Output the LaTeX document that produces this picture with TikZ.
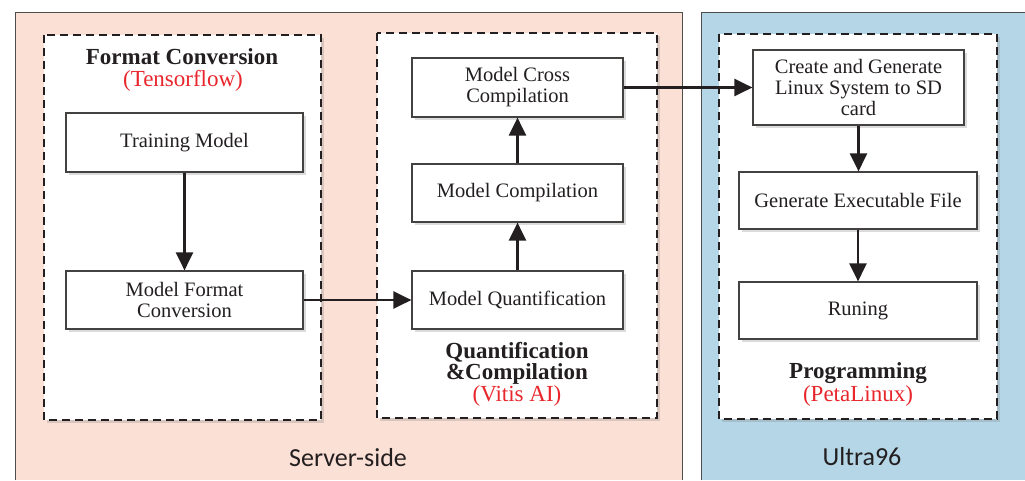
\documentclass[tikz,border=0pt]{standalone}
\usepackage{fontspec}
\setmainfont{Liberation Serif}
\newfontfamily\labelfont{Carlito}
\usetikzlibrary{shadows,arrows.meta}
\definecolor{peach}{HTML}{FBE0D5}
\definecolor{lblue}{HTML}{B4D6E6}
\definecolor{redtxt}{HTML}{E8262C}
\definecolor{ink}{HTML}{231F20}
\begin{document}
\begin{tikzpicture}[x=1pt,y=-1pt,
  procbox/.style={draw=ink!85, line width=1.2pt, fill=white, align=center, inner sep=2pt,
    text=ink, font=\fontsize{20.5}{21}\selectfont,
    drop shadow={opacity=0.28, shadow xshift=3pt, shadow yshift=-3pt}},
  groupbox/.style={draw=ink, dashed, dash pattern=on 8pt off 5pt, line width=1.8pt, fill=white,
    drop shadow={opacity=0.28, shadow xshift=3pt, shadow yshift=-3pt}},
  titletxt/.style={text=ink, font=\fontsize{23}{23}\selectfont\bfseries, inner sep=0pt},
  redtxtst/.style={text=redtxt, font=\fontsize{23}{23}\selectfont, inner sep=0pt},
  sidetxt/.style={text=ink, font=\labelfont\fontsize{26}{26}\selectfont, inner sep=0pt},
  flow/.style={draw=ink, line width=2.6pt, -{Triangle[length=18pt,width=17pt]}}]
\useasboundingbox (0,0) rectangle (1025,480);
\fill[white] (0,0) rectangle (1025,480);
% panels
\fill[peach] (15,12) rectangle (682,480);
\draw[ink!80, line width=0.8pt] (15,480) -- (15,12) -- (682,12) -- (682,480);
\fill[lblue] (701,12) rectangle (1025,480);
\draw[ink!80, line width=0.8pt] (701,480) -- (701,12) -- (1025,12);
% groups
\path[groupbox] (44,35) rectangle (321,420);
\path[groupbox] (377,33) rectangle (657,418);
\path[groupbox] (719,34) rectangle (997,419);
% titles
\node[titletxt] (t1) at (182,57) {Format Conversion};
\node[redtxtst] (r1) at (183,81) {(Tensorflow)};
\node[titletxt] (t2a) at (517,352) {Quantification};
\node[titletxt] (t2b) at (517,374) {\&Compilation};
\node[redtxtst] (r2) at (517,396) {(Vitis AI)};
\node[titletxt] (t3) at (858,373) {Programming};
\node[redtxtst] (r3) at (858,396) {(PetaLinux)};
\node[sidetxt] (s1) at (348,458) {Server-side};
\node[sidetxt] (s2) at (862,457) {Ultra96};
% boxes
\node[procbox, minimum width=237pt, minimum height=59pt] (train) at (184.5,142.5) {Training Model};
\node[procbox, minimum width=237pt, minimum height=58pt] (fmt) at (184.5,300) {Model Format\\Conversion};
\node[procbox, minimum width=211pt, minimum height=59pt] (cross) at (517.5,87.5) {Model Cross\\Compilation};
\node[procbox, minimum width=211pt, minimum height=58pt] (comp) at (517.5,193) {Model Compilation};
\node[procbox, minimum width=211pt, minimum height=58pt] (quant) at (517.5,300) {Model Quantification};
\node[procbox, minimum width=211pt, minimum height=75pt] (create) at (858.5,87.5) {Create and Generate\\Linux System to SD\\card};
\node[procbox, minimum width=238pt, minimum height=57pt] (exe) at (858,200.5) {Generate Executable File};
\node[procbox, minimum width=238pt, minimum height=57pt] (run) at (858,310.5) {Runing};
% arrows
\draw[flow] (train) -- (fmt);
\draw[flow] (fmt) -- (quant);
\draw[flow] (quant) -- (comp);
\draw[flow] (comp) -- (cross);
\draw[flow] (cross) -- (create);
\draw[flow] (create) -- (create|-exe.north);
\draw[flow] (exe) -- (run);
\end{tikzpicture}
\end{document}
